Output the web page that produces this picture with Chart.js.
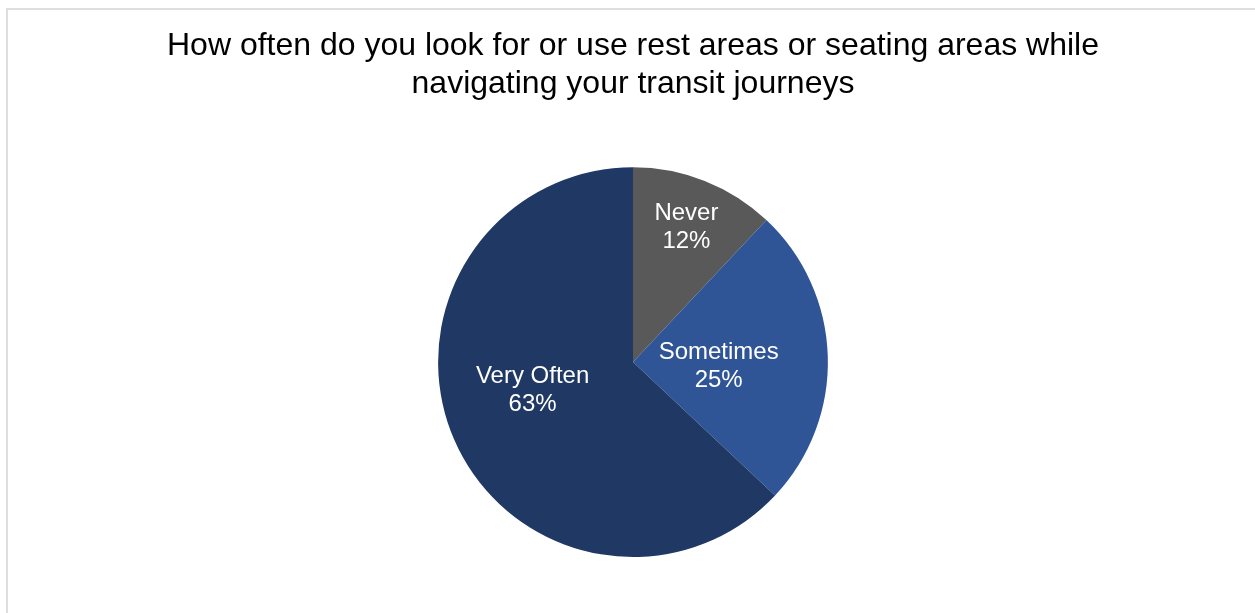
<!DOCTYPE html>
<html>
<head>
<meta charset="utf-8">
<script src="https://cdn.jsdelivr.net/npm/chart.js@4"></script>
<style>
  html, body { margin: 0; padding: 0; background: #fff; overflow: hidden; }
  #wrap { position: relative; width: 1255px; height: 613px; }
  #frame {
    position: absolute; left: 6px; top: 8px; width: 1270px; height: 640px;
    border: 2px solid #dedede; box-sizing: border-box;
  }
  #myChart { position: absolute; left: 0; top: 0; }
</style>
</head>
<body>
<div id="wrap">
  <div id="frame"></div>
  <canvas id="myChart" width="1255" height="613"></canvas>
</div>
<script>
const answers = ['Never', 'Sometimes', 'Very Often'];
const shares = [12, 25, 63];
const sliceColors = ['#595959', '#2F5597', '#203864'];
// label placement: share of the radius, and a nudge (degrees) off the slice middle
const labelDistance = [0.745, 0.44, 0.535];
const labelNudge = [0, 4.5, 7.8];

const sliceLabels = {
  id: 'sliceLabels',
  afterDatasetsDraw(chart) {
    const ctx = chart.ctx;
    const meta = chart.getDatasetMeta(0);
    ctx.save();
    ctx.fillStyle = '#ffffff';
    ctx.font = '24px "Liberation Sans", Arial, sans-serif';
    ctx.textAlign = 'center';
    ctx.textBaseline = 'middle';
    meta.data.forEach((arc, i) => {
      const p = arc.getProps(['x', 'y', 'startAngle', 'endAngle', 'outerRadius'], true);
      const mid = (p.startAngle + p.endAngle) / 2 + labelNudge[i] * Math.PI / 180;
      const r = p.outerRadius * labelDistance[i];
      const x = p.x + Math.cos(mid) * r;
      const y = p.y + Math.sin(mid) * r;
      ctx.fillText(answers[i], x, y - 14);
      ctx.fillText(shares[i] + '%', x, y + 14);
    });
    ctx.restore();
  }
};

const ctx = document.getElementById('myChart');

new Chart(ctx, {
  type: 'pie',
  data: {
    labels: answers,
    datasets: [{
      data: shares,
      backgroundColor: sliceColors,
      borderWidth: 0
    }]
  },
  options: {
    responsive: false,
    animation: false,
    layout: {
      padding: { top: 28, bottom: 56, left: 11, right: 0 }
    },
    plugins: {
      legend: { display: false },
      tooltip: { enabled: false },
      title: {
        display: true,
        text: ['How often do you look for or use rest areas or seating areas while', 'navigating your transit journeys'],
        color: '#000000',
        font: { family: '"Liberation Sans", Arial, sans-serif', size: 32, weight: 'normal', lineHeight: 1.16 },
        padding: { top: 0, bottom: 65 }
      }
    }
  },
  plugins: [sliceLabels]
});
</script>
</body>
</html>
